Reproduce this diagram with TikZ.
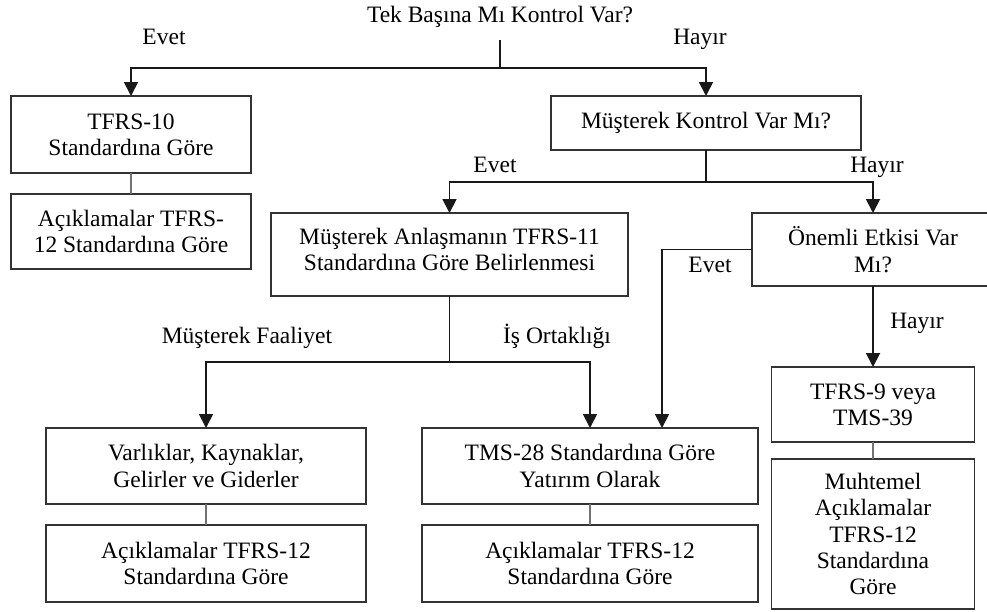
\documentclass[tikz,border=0pt]{standalone}
\usepackage{fontspec}
\setmainfont{Liberation Serif}
\usetikzlibrary{arrows.meta, positioning}

\begin{document}
\begin{tikzpicture}[x=1pt, y=-1pt, node distance=21pt,
    font=\fontsize{23.5}{26.3}\selectfont, part/.style={
        rectangle,
        draw=black!80,
        text=black,
        align=center,
        line width=1.5pt,
        inner sep=0pt,
        outer sep=0pt
    }, answer/.style={
        anchor=base,
        inner sep=0pt
    }, arrow/.style={
        line width=1.8pt, draw=black!90, -{Triangle[width=14pt,length=14pt]}
    }, link/.style={
        line width=1.2pt, draw=black!55
    }]
    \useasboundingbox (0,0) rectangle (987,611);
    \node (question) [answer] at (500,22) {Tek Başına Mı Kontrol Var?};
    \node (tfrsten) [part, minimum width=240pt, minimum height=77pt] at (131,134.5) {TFRS-10\\Standardına Göre};
    \node (acikone) [part, minimum width=240pt, minimum height=75pt, below=of tfrsten] {Açıklamalar TFRS-\\12 Standardına Göre};
    \node (mkontrol) [part, minimum width=310pt, minimum height=54pt] at (706,123) {Müşterek Kontrol Var Mı?};
    \node (anlasma) [part, minimum width=357pt, minimum height=83pt, text depth=10pt] at (449.5,254.5) {Müşterek Anlaşmanın TFRS-11\\Standardına Göre Belirlenmesi};
    \node (onemli) [part, minimum width=242pt, minimum height=73pt] at (873,249.5) {Önemli Etkisi Var\\Mı?};
    \node (varliklar) [part, minimum width=320pt, minimum height=76pt] at (206,466) {Varlıklar, Kaynaklar,\\Gelirler ve Giderler};
    \node (aciktwo) [part, minimum width=320pt, minimum height=77pt, below=of varliklar] {Açıklamalar TFRS-12\\Standardına Göre};
    \node (tms28) [part, minimum width=336pt, minimum height=76pt] at (590,466) {TMS-28 Standardına Göre\\Yatırım Olarak};
    \node (acikthree) [part, minimum width=336pt, minimum height=77pt, below=of tms28] {Açıklamalar TFRS-12\\Standardına Göre};
    \node (tfrsnine) [part, minimum width=203pt, minimum height=75pt] at (873,404.5) {TFRS-9 veya\\TMS-39};
    \node (muhtemel) [part, minimum width=203pt, minimum height=150pt, below=17pt of tfrsnine] {Muhtemel\\Açıklamalar\\TFRS-12\\Standardına\\Göre};
    \node (evetone) [answer] at (164,44) {Evet};
    \node (hayirone) [answer] at (700,44) {Hayır};
    \node (evettwo) [answer] at (495,172) {Evet};
    \node (hayirtwo) [answer] at (877,172) {Hayır};
    \node (evetthree) [answer] at (710,272) {Evet};
    \node (hayirthree) [answer] at (917,328) {Hayır};
    \node (faaliyet) [answer] at (247,343) {Müşterek Faaliyet};
    \node (ortaklik) [answer] at (557,343) {İş Ortaklığı};
    \draw [arrow] ([yshift=-13pt]question.south) -- ++(0,28) coordinate (splitone) -| (tfrsten.north);
    \draw [arrow] (splitone) -| (mkontrol.north);
    \draw [arrow] (mkontrol.south) -- ++(0,32) coordinate (splittwo) -| (anlasma.north);
    \draw [arrow] (splittwo) -| (onemli.north);
    \draw [arrow] (onemli.west) -| ([xshift=72pt]tms28.north);
    \draw [arrow] (onemli.south) -- (tfrsnine.north);
    \draw [arrow] (anlasma.south) -- ++(0,66) coordinate (splitthree) -| (varliklar.north);
    \draw [arrow] (splitthree) -| (tms28.north);
    \draw [link] (tfrsten) -- (acikone);
    \draw [link] (varliklar) -- (aciktwo);
    \draw [link] (tms28) -- (acikthree);
    \draw [link] (tfrsnine) -- (muhtemel);

\end{tikzpicture}
\end{document}
